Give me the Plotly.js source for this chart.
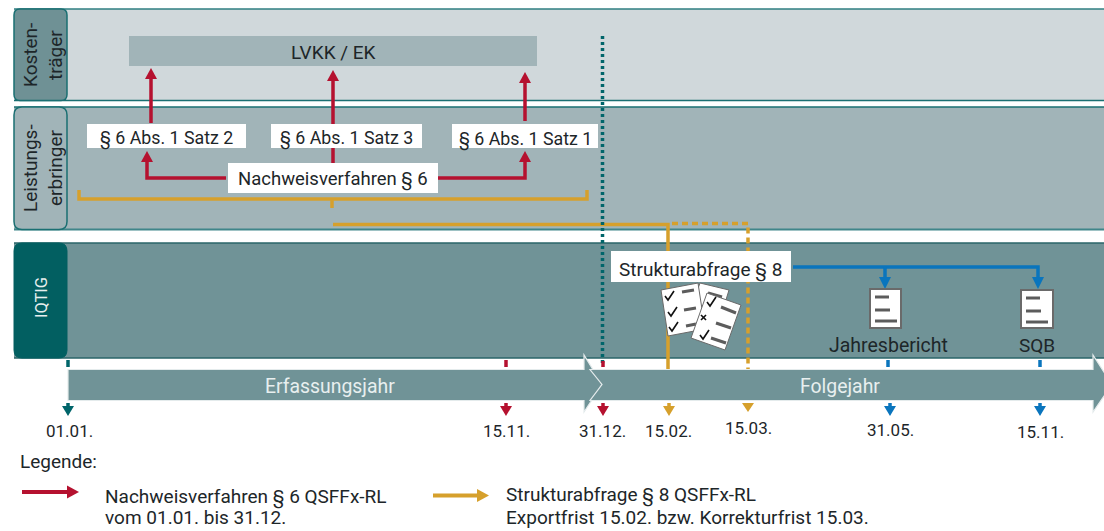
<!DOCTYPE html>
<html><head><meta charset="utf-8">
<script src="https://cdn.plot.ly/plotly-3.0.1.min.js"></script>
<style>html,body{margin:0;padding:0;background:#fff}#c{width:1104px;height:531px}</style>
</head><body><div id="c"></div>
<script>
var FONT = 'Roboto, sans-serif';
var RED='#b5112f', GOLD='#d6a02c', BLUE='#0a75bd', TEAL='#00656a', DARK='#1d2629', BAND='#709397', MID='#a1b4b8', LIGHT='#d0d8db';

// Texts and categories
var laneLabels = [['Kosten-','träger'],['Leistungs-','erbringer'],['IQTIG']];
var paragraphLabels = ['§ 6 Abs. 1 Satz 2','§ 6 Abs. 1 Satz 3','§ 6 Abs. 1 Satz 1'];
var dateLabels = ['01.01.','15.11.','31.12.','15.02.','15.03.','31.05.','15.11.'];
var dateColors = [TEAL,RED,RED,GOLD,GOLD,BLUE,BLUE];
var bandLabels = ['Erfassungsjahr','Folgejahr'];
var reportLabels = ['Jahresbericht','SQB'];
var legendLines = [['Nachweisverfahren § 6 QSFFx-RL','vom 01.01. bis 31.12.'],['Strukturabfrage § 8 QSFFx-RL','Exportfrist 15.02. bzw. Korrekturfrist 15.03.']];

// Diagram axis positions
var dateX = [68,506,603,669,748,890,1040];
var dateLabelX = [69,506,602,668,748,890,1040];
var dateLabelY = [431,431,431,431,428,430,432];
var tickX = [68,506,603,668,748,888,1040];

var shapes = [], ann = [];
function path(d,fill,line,w){shapes.push({type:'path',xref:'x',yref:'y',path:d,fillcolor:fill||'rgba(0,0,0,0)',line:{color:line||'rgba(0,0,0,0)',width:w||0},layer:'above'});}
function rect(x0,y0,x1,y1,fill,line,w){path('M'+x0+','+y0+'L'+x1+','+y0+'L'+x1+','+y1+'L'+x0+','+y1+'Z',fill,line,w);}
function rrect(x0,y0,x1,y1,r,fill,line,w){path('M'+(x0+r)+','+y0+'L'+(x1-r)+','+y0+'Q'+x1+','+y0+' '+x1+','+(y0+r)+'L'+x1+','+(y1-r)+'Q'+x1+','+y1+' '+(x1-r)+','+y1+'L'+(x0+r)+','+y1+'Q'+x0+','+y1+' '+x0+','+(y1-r)+'L'+x0+','+(y0+r)+'Q'+x0+','+y0+' '+(x0+r)+','+y0+'Z',fill,line,w);}
function line(pts,color,w,dash){shapes.push({type:'path',xref:'x',yref:'y',path:'M'+pts.map(function(p){return p[0]+','+p[1];}).join('L'),line:{color:color,width:w,dash:dash||'solid'},fillcolor:'rgba(0,0,0,0)',layer:'above'});}
function head(x,y,dir,color,l,hw){ // tip at x,y
  var d;
  if(dir==='up') d='M'+x+','+y+'L'+(x+hw)+','+(y+l)+'L'+(x-hw)+','+(y+l)+'Z';
  if(dir==='down') d='M'+x+','+y+'L'+(x+hw)+','+(y-l)+'L'+(x-hw)+','+(y-l)+'Z';
  if(dir==='right') d='M'+x+','+y+'L'+(x-l)+','+(y+hw)+'L'+(x-l)+','+(y-hw)+'Z';
  path(d,color);
}
function txt(x,y,t,opt){opt=opt||{};ann.push({x:x,y:y,xref:'x',yref:'y',text:t,showarrow:false,xanchor:opt.a||'center',yanchor:'middle',textangle:opt.rot||0,borderpad:0,
  font:{family:FONT,size:opt.s||18.5,color:opt.c||DARK}});}

// Lanes
rect(14,9,1110,100,LIGHT); line([[14,9],[1110,9]],'#2f7f82',1.5); line([[14,100.5],[1110,100.5]],'#1a6f72',1.5);
rect(14,107,1110,229.5,MID); line([[14,107],[1110,107]],'#1a6f72',1.5); line([[14,229.5],[1110,229.5]],'#3f8589',2);
rect(14,243,1110,358,BAND); line([[14,243],[1110,243]],'#2a6468',1.5); line([[14,358],[1110,358]],'#2a6468',1.5);
rrect(14,9,67,100.5,6,'#6f9195','#1a6f72',1.5);
rrect(14,107,67,229.5,8,MID,'#1a6f72',1.5);
rrect(14,243,67,358,8,'#025f61','#025f61',1);

// LVKK box
rect(129,36,537,66,MID);

// Gold bracket and Strukturabfrage lines
line([[79,190],[79,199],[587,199],[587,190]],GOLD,3.5);
line([[332,199],[332,208]],GOLD,3.5);
line([[333,224.5],[668,224.5],[668,369]],GOLD,3.5);
line([[672,223.5],[748,223.5],[748,369]],GOLD,3.5,'6px,4px');

// Red arrows
line([[151,123],[151,78]],RED,3.5); head(151,68,'up',RED,11,6);
line([[333,163],[333,80]],RED,3.5); head(333,70,'up',RED,11,6);
line([[525,121],[525,82]],RED,3.5); head(525,72,'up',RED,11,6);
line([[226,178],[147,178],[147,160]],RED,3.5); head(147,151,'up',RED,11,6);
line([[438,178],[525,178],[525,160]],RED,3.5); head(525,151,'up',RED,11,6);

// Teal dotted year boundary
line([[602.5,36],[602.5,366]],TEAL,3.5,'3px,3px');

// White label boxes
var pBoxes=[[87,124,246,148],[271,124,422,148],[452,124,598,148]];
pBoxes.forEach(function(b){rect(b[0],b[1],b[2],b[3],'#fff');});
rect(228,163,438,193,'#fff');
rect(611,251,791,282,'#fff');

// Blue report lines
line([[793,267],[1038,267],[1038,280]],BLUE,3.5);
line([[885,267],[885,280]],BLUE,3.5);
head(885,289,'down',BLUE,12,6);
head(1038,289,'down',BLUE,12,6);

// Questionnaire icon
var PB='#6a6a6a', PL='#5c5c5c';
path('M700,283L729,290L722,313L690,310Z','#fff',PB,1);
line([[708,293],[722,297]],PL,3);
path('M661,290L698,283L705,329L668,336Z','#fff',PB,1);
line([[682,292],[694,290]],PL,3); line([[684,310],[696,308]],PL,3); line([[686,326],[696,324]],PL,3);
function check(x,y,w){line([[x-4,y],[x-1,y+4],[x+5,y-5]],'#111',w||1.6);}
check(669,296); check(672,312); check(673,327);
path('M707,293L741,305L725,350L691,338Z','#fff',PB,1);
line([[721,307],[736,313]],PL,3); line([[716,323],[731,328]],PL,3); line([[711,338],[726,343]],PL,3);
check(711,302); check(704,335);
line([[701,315],[706,320]],'#111',1.6); line([[706,315],[701,320]],'#111',1.6);

// Report icons
[[870,289,901,328],[1021,290,1053,328]].forEach(function(b){
  rect(b[0],b[1],b[2],b[3],'#fff',PB,2);
  var x=b[0]+5;
  line([[x,b[1]+8],[x+14,b[1]+8]],PL,3);
  line([[x,b[1]+21],[x+15,b[1]+21]],PL,3);
  line([[x,b[1]+32],[x+22,b[1]+32]],PL,3);
});

// Ticks above band
tickX.forEach(function(x,i){ if(i===3||i===4||i===2) return; line([[x,360],[x,367]],dateColors[i],3.5); });
line([[603,361],[603,367]],RED,3.5);

// Year bands
path('M68,369.5L584,369.5L584,355L602,384.5L584,412L584,400.5L68,400.5Z',BAND,'#e4ebec',1.2);
path('M590,369.5L1093,369.5L1093,355L1112,384.5L1093,412L1093,400.5L590,400.5L602,384.5Z',BAND,'#e4ebec',1.2);

// Date arrows
dateX.forEach(function(x,i){
  if(i===4){ head(x,412,'down',GOLD,9,6); return; }
  line([[x,403],[x,409]],dateColors[i],3.5);
  head(x,416,'down',dateColors[i],10,6);
});

// Legend arrows
line([[22,492],[68,492]],RED,4); head(79,492,'right',RED,12,6.5);
line([[433,495.5],[478,495.5]],GOLD,4); head(489,495.5,'right',GOLD,12,6.5);

// Texts
txt(30,55,laneLabels[0][0],{rot:-90,s:19}); txt(55,55,laneLabels[0][1],{rot:-90,s:19});
txt(30,168,laneLabels[1][0],{rot:-90,s:19}); txt(55,168,laneLabels[1][1],{rot:-90,s:19});
txt(41,298,laneLabels[2][0],{rot:-90,c:'#e8efef',s:16.5});
txt(333,52,'LVKK / EK',{s:19});
txt(166.5,138,paragraphLabels[0],{s:17.8}); txt(346.5,138,paragraphLabels[1],{s:17.8}); txt(525,139,paragraphLabels[2],{s:17.8});
txt(333,179,'Nachweisverfahren § 6');
txt(700,270,'Strukturabfrage § 8',{s:19});
txt(888,345,reportLabels[0],{s:19.5}); txt(1037,345,reportLabels[1],{s:19});
txt(330,386,bandLabels[0],{c:'#e8efef',s:19.4}); txt(840,386,bandLabels[1],{c:'#e8efef',s:19.4});
dateLabels.forEach(function(t,i){txt(dateLabelX[i],dateLabelY[i],t,{s:17});});
txt(19,461,'Legende:',{a:'left',s:19});
txt(104,497,legendLines[0][0],{a:'left',s:19}); txt(104,517.5,legendLines[0][1],{a:'left',s:19});
txt(505,495,legendLines[1][0],{a:'left',s:19}); txt(505,517.5,legendLines[1][1],{a:'left',s:19});

Plotly.newPlot('c',[],{
  width:1104,height:531,margin:{l:0,r:0,t:0,b:0},paper_bgcolor:'#fff',plot_bgcolor:'#fff',showlegend:false,
  xaxis:{range:[0,1104],visible:false,fixedrange:true},
  yaxis:{range:[531,0],visible:false,fixedrange:true},
  shapes:shapes,annotations:ann
},{staticPlot:true,displayModeBar:false});
</script></body></html>
